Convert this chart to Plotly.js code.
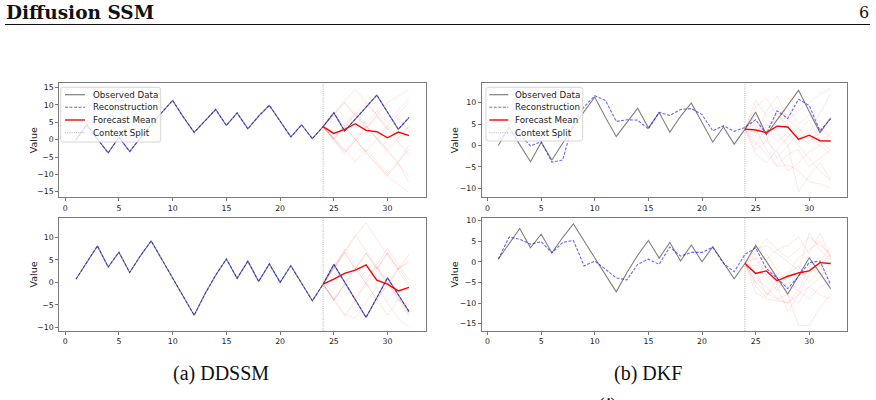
<!DOCTYPE html>
<html>
<head>
<meta charset="utf-8">
<script src="https://cdn.plot.ly/plotly-3.0.1.min.js"></script>
<style>
  html, body { margin: 0; padding: 0; background: #fff; }
  #chart { width: 876px; height: 400px; }
</style>
</head>
<body>
<div id="chart"></div>
<script>
// Time steps of the series and of the forecast window
const steps = [1, 2, 3, 4, 5, 6, 7, 8, 9, 10, 11, 12, 13, 14, 15, 16,
               17, 18, 19, 20, 21, 22, 23, 24, 25, 26, 27, 28, 29, 30, 31, 32];
const forecastSteps = [24, 25, 26, 27, 28, 29, 30, 31, 32];
const contextSplit = 24;

// Series i: observed values (shared by both models)
const observedA = [0, 4.3, 0.2, -3.8, 0.7, -3.4, 0.5, 4.3, 7.9, 11.3, 6.5, 2.1,
                   5.4, 8.7, 4.1, 7.7, 3.1, 6.8, 9.9, 5.2, 0.8, 4.3, 0.3, 3.75,
                   7.8, 2.5, 6.0, 9.5, 12.85, 7.9, 3.0, 6.4];
// Series ii: observed values
const observedB = [0.7, 4.5, 8.1, 3.4, 6.7, 2.2, 5.9, 9.2, 5.0, 0.8, -3.2, -7.3,
                   -2.6, 1.6, 5.2, 0.9, 4.7, 0.2, 4.1, 0.0, 3.7, -0.2, -4.1, -0.4,
                   4.0, 0.1, -3.9, -7.8, -3.4, 1.0, -2.75, -6.5];

// DDSSM reconstructions
const ddssmReconA = [0, 4.3, 0.2, -3.8, 0.7, -3.4, 0.5, 4.3, 7.9, 11.3, 6.5, 2.1,
                     5.4, 8.7, 4.1, 7.7, 3.1, 6.8, 9.9, 5.2, 0.8, 4.3, 0.3, 3.75,
                     7.8, 2.5, 6.0, 9.5, 12.85, 7.9, 3.0, 6.4];
const ddssmReconB = [0.7, 4.5, 8.1, 3.4, 6.7, 2.2, 5.9, 9.2, 5.0, 0.8, -3.2, -7.3,
                     -2.6, 1.6, 5.2, 0.9, 4.7, 0.2, 4.1, 0.0, 3.7, -0.2, -4.1, -0.4,
                     4.0, 0.1, -3.9, -7.8, -3.4, 1.0, -2.75, -6.5];

// DKF reconstructions
const dkfReconA = [1.6, 3.0, 2.5, -0.1, 0.9, -3.9, -3.4, 5.5, 9.0, 11.6, 10.5, 5.6,
                   6.0, 5.9, 3.85, 7.7, 7.0, 8.4, 8.6, 7.2, 3.4, 4.6, 3.3, 4.2,
                   6.0, 2.7, 8.1, 6.3, 10.8, 9.3, 3.4, 6.2];
const dkfReconB = [0.65, 6.0, 5.5, 4.3, 4.9, 2.2, 4.7, 5.2, -1.0, 0.2, -1.8, -3.9,
                   -4.4, -0.6, 0.65, -0.6, 3.6, 1.4, 2.3, 2.3, 3.5, -0.4, -2.4, 1.8,
                   3.4, -1.6, -4.0, -6.5, -3.5, -0.2, 0.2, -5.6];

// Forecast means (steps 24..32)
const ddssmMeanA = [3.75, 1.8, 3.0, 4.6, 2.7, 2.3, 0.55, 2.2, 1.15];
const ddssmMeanB = [-0.4, 0.7, 2.0, 2.7, 3.9, 0.5, -0.4, -1.9, -1.1];
const dkfMeanA   = [3.8, 3.6, 3.0, 4.5, 4.3, 1.4, 2.4, 1.1, 1.05];
const dkfMeanB   = [-0.4, -2.8, -2.2, -4.6, -3.5, -2.7, -2.2, -0.2, -0.4];

// Forecast samples (steps 24..32)
const ddssmSamplesA = [
  [3.75, 7.6, 11.2, 14.5, 10.8, 7.0, 3.2, -0.8, -4.5],
  [3.75, 0.0, -4.0, -0.3, 3.5, 7.2, 10.8, 12.5, 14.6],
  [3.75, 0.2, -3.6, -0.2, -3.8, -7.2, -10.5, -12.8, -15.2],
  [3.75, 7.5, 3.8, 0.0, -3.6, -7.1, -10.4, -6.8, -12.3],
  [3.75, 0.5, 4.2, 8.0, 4.5, 8.2, 4.8, 8.5, 12.0],
  [3.75, 7.2, 10.5, 6.8, 3.2, 6.6, 2.8, 6.2, 2.5],
  [3.75, 0.3, -3.2, 0.4, 4.0, 0.5, -3.0, -6.5, -1.5],
  [3.75, 0.0, 3.6, 7.2, 10.8, 7.3, 3.8, 0.3, 3.8],
  [3.75, 7.4, 3.9, 7.5, 4.0, 0.5, -3.0, 0.5, 4.0],
  [3.75, 0.6, -2.8, -6.3, -2.8, -6.3, -9.8, -6.3, -2.8],
  [3.75, 7.3, 10.8, 7.2, 3.6, 0.0, -3.6, -7.2, -10.6],
  [3.75, 0.2, 3.8, 0.2, -3.4, 0.2, 3.8, 7.4, 11.0]
];
const ddssmSamplesB = [
  [-0.4, 3.2, 6.8, 10.2, 13.2, 9.6, 6.0, 2.5, -1.0],
  [-0.4, 3.5, 7.0, 10.5, 7.0, 3.5, 0.0, -3.5, -7.0],
  [-0.4, -3.9, -7.5, -4.0, -0.5, 3.0, 6.5, 3.0, 6.3],
  [-0.4, 3.3, 0.0, -3.5, 0.0, 3.5, 0.0, -3.5, -7.0],
  [-0.4, -4.0, -0.5, 3.0, 6.5, 3.0, -0.5, -4.0, -7.5],
  [-0.4, 3.0, 6.5, 3.0, 6.5, 3.0, 6.5, 3.0, 5.0],
  [-0.4, -3.5, -7.0, -8.0, -4.5, -1.0, -4.5, -8.0, -10.0],
  [-0.4, 3.2, 6.7, 3.2, -0.3, -3.8, -0.3, 3.2, -0.3],
  [-0.4, -3.8, -0.3, 3.2, -0.3, -3.8, -7.3, -3.8, -5.0],
  [-0.4, 3.4, 7.4, 4.0, 0.5, 4.0, 7.5, 4.0, 0.5],
  [-0.4, -4.0, -0.5, -4.0, -7.5, -4.0, -0.5, 3.0, 4.5]
];
const dkfSamplesA = [
  [3.8, 10.5, 7.0, 9.0, 6.0, 8.0, 10.0, 12.0, 13.3],
  [3.8, 1.0, -2.0, -5.0, -4.5, -6.0, -8.5, -9.0, -10.0],
  [3.8, 6.0, 2.0, -3.0, 0.0, -10.8, -7.0, -4.0, -8.0],
  [3.8, 2.0, 8.0, 11.5, 6.0, 4.0, 2.0, 0.0, -2.0],
  [3.8, -2.0, -4.0, -1.0, 2.0, 4.0, 1.0, 3.0, 5.0],
  [3.8, 7.0, 4.0, 1.0, 3.0, 0.0, -3.0, -6.0, -8.2],
  [3.8, 0.0, 4.5, 6.0, 9.0, 5.0, 7.0, 4.0, 2.0],
  [3.8, 4.0, -1.0, -4.8, -2.0, -1.0, -5.0, -3.0, -1.0],
  [3.8, 9.0, 11.0, 7.0, 5.0, 2.0, 0.5, 4.0, 6.5],
  [3.8, 3.0, 5.0, 3.0, 0.0, 3.0, 6.0, 1.0, -1.0],
  [3.8, -1.0, 1.0, -1.5, -6.0, -4.0, -1.5, 0.0, 3.0],
  [3.8, 5.0, 1.0, 8.0, 4.0, 1.5, 3.0, 7.5, 12.0]
];
const dkfSamplesB = [
  [-0.4, 2.0, 5.8, 3.0, 1.0, 3.0, 6.0, 4.0, 2.0],
  [-0.4, -4.0, -6.0, -9.0, -8.0, -15.5, -15.5, -11.0, -8.0],
  [-0.4, -5.0, -7.5, -9.0, -10.0, -8.0, -6.0, -4.0, 0.0],
  [-0.4, 1.0, 0.5, 3.0, 4.0, 6.0, 2.0, 7.0, 1.0],
  [-0.4, -2.0, -8.0, -6.0, -12.0, -8.0, -3.0, -1.0, 2.0],
  [-0.4, -3.0, -1.0, -4.0, -3.0, 1.0, 3.0, 5.0, 1.0],
  [-0.4, 3.0, 4.0, 2.0, 0.0, -2.0, 7.0, 3.0, 0.5],
  [-0.4, -6.0, -8.5, -4.0, -6.0, -7.0, -1.0, -3.0, -2.0],
  [-0.4, -1.0, 2.0, -2.0, -5.0, -4.0, -2.0, 0.0, 3.5],
  [-0.4, -5.0, -3.0, -7.0, -3.0, -1.0, -5.0, -2.0, 1.0],
  [-0.4, 1.0, -3.0, -5.0, -8.0, -10.0, -6.0, -8.0, -9.0],
  [-0.4, -7.5, -9.0, -9.5, -10.0, -7.0, -9.0, -6.0, -5.0]
];

// Axis ticks
const xTicks = [0, 5, 10, 15, 20, 25, 30];
const yTicksTL = [-15, -10, -5, 0, 5, 10, 15];
const yTicksTR = [-10, -5, 0, 5, 10];
const yTicksBL = [-10, -5, 0, 5, 10];
const yTicksBR = [-15, -10, -5, 0, 5, 10];

// Page is 876 x 400; convert pixel positions to paper coordinates
const W = 876, H = 400;
const px = v => v / W;
const py = v => 1 - v / H;

const C_OBS = 'rgba(0,0,0,0.5)';
const C_REC = 'rgba(0,0,255,0.6)';
const C_MEAN = '#ff0000';
const C_SAMPLE = 'rgba(255,0,0,0.1)';
const C_SPLIT = 'rgba(128,128,128,0.6)';
const DOTTED = '1px,1.2px';

const traces = [];
function panel(xa, ya, observed, recon, mean, samples) {
  samples.forEach(s => traces.push({
    x: forecastSteps, y: s, xaxis: xa, yaxis: ya, mode: 'lines',
    line: { color: C_SAMPLE, width: 1 }, hoverinfo: 'skip', showlegend: false
  }));
  traces.push({ x: steps, y: observed, xaxis: xa, yaxis: ya, mode: 'lines',
    line: { color: C_OBS, width: 1.1 }, showlegend: false });
  traces.push({ x: steps, y: recon, xaxis: xa, yaxis: ya, mode: 'lines',
    line: { color: C_REC, width: 1.1, dash: '3px,1.5px' }, showlegend: false });
  traces.push({ x: forecastSteps, y: mean, xaxis: xa, yaxis: ya, mode: 'lines',
    line: { color: C_MEAN, width: 1.4 }, showlegend: false });
}
panel('x', 'y', observedA, ddssmReconA, ddssmMeanA, ddssmSamplesA);
panel('x2', 'y2', observedA, dkfReconA, dkfMeanA, dkfSamplesA);
panel('x3', 'y3', observedB, ddssmReconB, ddssmMeanB, ddssmSamplesB);
panel('x4', 'y4', observedB, dkfReconB, dkfMeanB, dkfSamplesB);

const tickFont = { family: 'DejaVu Sans, sans-serif', size: 7.8, color: '#222' };
function xAxis(l, r, anchor) {
  return { domain: [px(l), px(r)], anchor: anchor, range: [-0.55, 33.55],
    tickmode: 'array', tickvals: xTicks, showgrid: false, zeroline: false,
    showline: true, mirror: true, linecolor: '#7a7a7a', linewidth: 1,
    ticks: 'outside', ticklen: 3, tickwidth: 0.8, tickcolor: '#555', tickfont: tickFont };
}
function yAxis(t, b, range, ticks, anchor) {
  return { domain: [py(b), py(t)], anchor: anchor, range: range,
    tickmode: 'array', tickvals: ticks, showgrid: false, zeroline: false,
    showline: true, mirror: true, linecolor: '#7a7a7a', linewidth: 1,
    ticks: 'outside', ticklen: 3, tickwidth: 0.8, tickcolor: '#555', tickfont: tickFont };
}

const shapes = [];
const annotations = [];

// Context split markers
[['x', 'y'], ['x2', 'y2'], ['x3', 'y3'], ['x4', 'y4']].forEach(([xa, ya]) => {
  shapes.push({ type: 'line', xref: xa, yref: ya + ' domain', x0: contextSplit, x1: contextSplit,
    y0: 0, y1: 1, line: { color: C_SPLIT, width: 1, dash: DOTTED }, layer: 'above' });
});

// Legend boxes
const legendItems = [
  { name: 'Observed Data', color: C_OBS, dash: 'solid', width: 1.2 },
  { name: 'Reconstruction', color: C_REC, dash: '3px,1.5px', width: 1.1 },
  { name: 'Forecast Mean', color: C_MEAN, dash: 'solid', width: 1.4 },
  { name: 'Context Split', color: C_SPLIT, dash: DOTTED, width: 1.1 }
];
function roundedBox(l, t, r, b, rad) {
  const X = v => px(v).toFixed(5), Y = v => py(v).toFixed(5);
  return `M ${X(l + rad)} ${Y(t)} L ${X(r - rad)} ${Y(t)} Q ${X(r)} ${Y(t)} ${X(r)} ${Y(t + rad)} ` +
         `L ${X(r)} ${Y(b - rad)} Q ${X(r)} ${Y(b)} ${X(r - rad)} ${Y(b)} ` +
         `L ${X(l + rad)} ${Y(b)} Q ${X(l)} ${Y(b)} ${X(l)} ${Y(b - rad)} ` +
         `L ${X(l)} ${Y(t + rad)} Q ${X(l)} ${Y(t)} ${X(l + rad)} ${Y(t)} Z`;
}
function legendBox(l, t, r, b, lineL, lineR, textX, rowYs) {
  shapes.push({ type: 'path', xref: 'paper', yref: 'paper', path: roundedBox(l, t, r, b, 2.5),
    fillcolor: 'rgba(255,255,255,0.8)', line: { color: '#cccccc', width: 0.8 }, layer: 'above' });
  legendItems.forEach((it, i) => {
    shapes.push({ type: 'line', xref: 'paper', yref: 'paper', x0: px(lineL), x1: px(lineR),
      y0: py(rowYs[i]), y1: py(rowYs[i]), line: { color: it.color, width: it.width, dash: it.dash },
      layer: 'above' });
    annotations.push({ xref: 'paper', yref: 'paper', x: px(textX), y: py(rowYs[i]),
      xanchor: 'left', yanchor: 'middle', showarrow: false, text: it.name,
      font: { family: 'DejaVu Sans, sans-serif', size: 8.7, color: '#222' } });
  });
}
legendBox(60.7, 87.3, 160.7, 142, 65, 85, 90.5, [94.7, 107.3, 120, 132.7]);
legendBox(486, 87.3, 582.7, 141, 489.3, 508.3, 513, [94.7, 107.3, 120, 132.7]);

// Y axis labels
[[33, 140.3], [454, 140.3], [33, 274.5], [454, 274.5]].forEach(([x, y]) => {
  annotations.push({ xref: 'paper', yref: 'paper', x: px(x), y: py(y), xanchor: 'center',
    yanchor: 'middle', showarrow: false, text: 'Value', textangle: -90,
    font: { family: 'DejaVu Sans, sans-serif', size: 9.5, color: '#222' } });
});

// Page header and captions
annotations.push({ xref: 'paper', yref: 'paper', x: px(4), y: py(13), xanchor: 'left',
  yanchor: 'middle', showarrow: false, text: '<b>Diffusion SSM</b>',
  font: { family: 'DejaVu Serif, serif', size: 18.5, color: '#111' } });
annotations.push({ xref: 'paper', yref: 'paper', x: px(871), y: py(13), xanchor: 'right',
  yanchor: 'middle', showarrow: false, text: '6',
  font: { family: 'DejaVu Serif, serif', size: 16, color: '#111' } });
shapes.push({ type: 'line', xref: 'paper', yref: 'paper', x0: px(5), x1: px(870),
  y0: py(24.5), y1: py(24.5), line: { color: '#111', width: 1 } });

const capFont = { family: 'Liberation Serif, serif', size: 20, color: '#111' };
annotations.push({ xref: 'paper', yref: 'paper', x: px(221), y: py(373.5), xanchor: 'center',
  yanchor: 'middle', showarrow: false, text: '(a) DDSSM', font: capFont });
annotations.push({ xref: 'paper', yref: 'paper', x: px(648), y: py(373.5), xanchor: 'center',
  yanchor: 'middle', showarrow: false, text: '(b) DKF', font: capFont });
annotations.push({ xref: 'paper', yref: 'paper', x: px(607), y: py(392), xanchor: 'center',
  yanchor: 'top', showarrow: false, text: '(<i>i</i>)', font: capFont });

const layout = {
  width: W, height: H,
  margin: { l: 0, r: 0, t: 0, b: 0 },
  paper_bgcolor: '#ffffff', plot_bgcolor: '#ffffff',
  showlegend: false,
  xaxis: xAxis(59.3, 425.7, 'y'),
  yaxis: yAxis(83.3, 197.3, [-16.6, 16.25], yTicksTL, 'x'),
  xaxis2: xAxis(481.7, 847.3, 'y2'),
  yaxis2: yAxis(83.3, 197.3, [-12.1, 14.5], yTicksTR, 'x2'),
  xaxis3: xAxis(59.3, 425.7, 'y3'),
  yaxis3: yAxis(218, 331, [-10.8, 14.3], yTicksBL, 'x3'),
  xaxis4: xAxis(481.7, 847.3, 'y4'),
  yaxis4: yAxis(218, 331, [-16.8, 10.65], yTicksBR, 'x4'),
  shapes: shapes,
  annotations: annotations
};

Plotly.newPlot('chart', traces, layout, { displayModeBar: false, staticPlot: true });
</script>
</body>
</html>
